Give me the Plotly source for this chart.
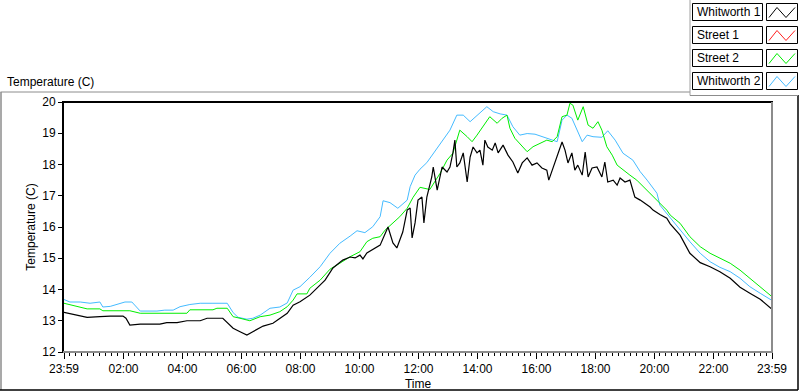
import pandas as pd
import plotly.graph_objects as go

# ---------------- data (minutes after 23:59 start, temperature in C) ----------------
start_time = "2020-01-01 23:59"

whitworth1_min = [0, 18, 47, 73, 94, 120, 126, 134, 155, 195, 209, 230, 250, 277, 291, 323,
                  332, 344, 358, 372, 384, 405, 425, 439, 454, 466, 480, 500, 517,
                  531, 547, 567, 582, 592, 602, 608, 616, 626, 643, 659, 669, 677, 683, 689,
                  698, 704, 708, 714, 720, 728, 732, 738, 748, 751, 759, 769, 779, 785, 791,
                  795, 799, 805, 812, 820, 826, 832, 840, 846, 852, 856, 862, 871, 877, 883,
                  893, 903, 913, 923, 932, 942, 952, 962, 972, 982, 986, 995, 1005, 1013, 1019,
                  1025, 1033, 1039, 1045, 1054, 1060, 1066, 1074, 1084, 1094, 1100, 1106, 1117,
                  1125, 1131, 1141, 1151, 1161, 1172, 1192, 1198, 1212, 1226, 1233, 1253,
                  1273, 1294, 1314, 1334, 1355, 1375, 1395, 1416, 1440]
whitworth1_temp = [13.27, 13.21, 13.11, 13.13, 13.15, 13.15, 13.08, 12.86, 12.89, 12.89, 12.94,
                   12.94, 13.0, 13.0, 13.08, 13.08, 12.95, 12.76, 12.65, 12.54, 12.65, 12.83,
                   12.92, 13.08, 13.24, 13.5, 13.61, 13.82, 14.1,
                   14.30, 14.69, 14.94, 15.04, 15.01, 15.10, 14.98, 15.17, 15.26, 15.42, 16.0,
                   15.49, 15.33, 15.58, 15.84, 16.54, 16.61, 15.65, 16.13, 16.86, 16.96, 16.13,
                   16.96, 17.6, 17.92, 17.18, 17.92, 17.76, 17.92, 18.37, 18.78, 17.92, 18.05,
                   18.37, 17.44, 18.24, 18.56, 18.37, 18.46, 17.98, 18.78, 18.56, 18.46, 18.69,
                   18.37, 18.62, 18.30, 18.08, 17.73, 18.05, 18.21, 17.98, 18.05, 17.89, 17.82,
                   17.5, 17.92, 18.37, 18.72, 18.46, 18.05, 18.37, 17.82, 17.98, 17.66, 18.40,
                   17.6, 17.89, 17.92, 17.6, 18.08, 17.44, 17.5, 17.34, 17.57, 17.44, 17.5,
                   16.96, 16.86, 16.64, 16.54, 16.4, 16.28, 16.1, 15.74, 15.16, 14.86, 14.73,
                   14.57, 14.36, 14.07, 13.88, 13.69, 13.37]

street1_min = []
street1_temp = []

street2_min = [0, 33, 47, 73, 79, 134, 155, 250, 256, 303, 311, 332, 344, 358, 378, 399, 419,
               439, 454, 466, 474, 494, 500, 521, 541, 561, 582, 602, 616, 628, 643, 653, 669,
               683, 698, 710, 724, 738, 744, 765, 779, 791, 805, 820, 830, 840, 852, 866, 881,
               891, 901, 907, 917, 932, 942, 954, 968, 982, 993, 1003, 1013, 1023, 1029, 1035,
               1045, 1056, 1066, 1076, 1086, 1094, 1104, 1115, 1125, 1137, 1151, 1165, 1186,
               1206, 1226, 1233, 1253, 1273, 1294, 1314, 1334, 1355, 1375, 1395, 1416, 1440]
street2_temp = [13.56, 13.43, 13.38, 13.38, 13.32, 13.32, 13.24, 13.24, 13.35, 13.35, 13.4,
                13.4, 13.13, 13.08, 13.0, 13.13, 13.18, 13.29, 13.45, 13.66, 13.86, 13.86,
                14.04, 14.3, 14.65, 14.84, 15.05, 15.21, 15.53, 15.64, 15.69, 15.9, 16.12,
                16.33, 16.6, 16.95, 17.27, 17.22, 17.2, 17.72, 18.14, 18.36, 19.1, 18.89,
                18.73, 18.94, 19.21, 19.53, 19.32, 19.48, 19.58, 19.16, 18.84, 18.57, 18.41,
                18.57, 18.68, 18.78, 18.73, 18.89, 19.53, 19.58, 19.96, 19.9, 19.42, 19.85,
                19.26, 19.16, 19.37, 19.1, 18.57, 18.3, 17.98, 17.82, 17.66, 17.5, 17.18,
                16.86, 16.54, 16.38, 16.12, 15.69, 15.37, 15.16, 15.0, 14.84, 14.62, 14.36,
                14.09, 13.77]

whitworth2_min = [0, 12, 33, 53, 73, 79, 94, 114, 124, 138, 148, 155, 189, 205, 222, 236, 256,
                  277, 303, 332, 344, 354, 372, 384, 399, 419, 439, 454, 466, 480, 500, 521,
                  541, 561, 582, 596, 612, 628, 643, 649, 663, 679, 698, 704, 714, 724, 738,
                  765, 785, 799, 812, 826, 840, 860, 873, 887, 901, 913, 927, 942, 958, 974,
                  988, 1003, 1013, 1023, 1033, 1043, 1054, 1064, 1076, 1094, 1106, 1121, 1137,
                  1157, 1172, 1186, 1206, 1212, 1233, 1253, 1273, 1294, 1314, 1334, 1355, 1375,
                  1395, 1416, 1440]
whitworth2_temp = [13.68, 13.6, 13.6, 13.56, 13.6, 13.44, 13.46, 13.56, 13.6, 13.6, 13.42,
                   13.31, 13.31, 13.34, 13.34, 13.45, 13.52, 13.56, 13.56, 13.56, 13.26, 13.11,
                   13.05, 13.08, 13.18, 13.4, 13.44, 13.57, 13.98, 14.09, 14.39, 14.73, 15.16,
                   15.48, 15.71, 15.88, 15.82, 16.01, 16.33, 16.84, 16.78, 16.6, 16.86, 17.29,
                   17.66, 17.85, 18.06, 18.68, 19.1, 19.58, 19.58, 19.37, 19.58, 19.85, 19.69,
                   19.62, 19.58, 19.21, 18.94, 18.99, 18.97, 18.89, 18.8, 18.73, 19.42, 19.58,
                   19.48, 19.1, 18.73, 18.94, 18.89, 18.87, 19.08, 18.78, 18.36, 18.14, 17.77,
                   17.5, 17.08, 16.7, 16.3, 15.9, 15.53, 15.16, 14.89, 14.71, 14.57, 14.36,
                   14.09, 13.88, 13.65]

series_names = ["Whitworth 1", "Street 1", "Street 2", "Whitworth 2"]
series_colors = ["#000000", "#FF2020", "#00EE00", "#44BBFF"]

y_ticks = [12, 13, 14, 15, 16, 17, 18, 19, 20]
x_tick_labels = ["23:59", "02:00", "04:00", "06:00", "08:00", "10:00", "12:00",
                 "14:00", "16:00", "18:00", "20:00", "22:00", "23:59"]

# ---------------- build figure ----------------
t0 = pd.Timestamp(start_time)
def to_time(mins):
    return [t0 + pd.Timedelta(minutes=m) for m in mins]

data = [
    (whitworth1_min, whitworth1_temp),
    (street1_min, street1_temp),
    (street2_min, street2_temp),
    (whitworth2_min, whitworth2_temp),
]

W, H = 800, 392
L, R, T, B = 64, 28, 102, 40
plot_w = W - L - R
plot_h = H - T - B

def px(x):
    return (x - L) / plot_w

def py(y):
    return (H - B - y) / plot_h

fig = go.Figure()
for idx in [3, 2, 1, 0]:
    mins, temps = data[idx]
    fig.add_trace(go.Scatter(
        x=to_time(mins), y=temps, mode="lines", name=series_names[idx],
        line=dict(color=series_colors[idx], width=1.2 if idx == 0 else 1, shape="linear"),
        showlegend=False, hoverinfo="skip",
    ))

end_time = t0 + pd.Timedelta(minutes=1440)
tickvals = [t0] + [pd.Timestamp("2020-01-02") + pd.Timedelta(hours=h) for h in range(2, 24, 2)] + [end_time]

font = "Liberation Sans, Arial, sans-serif"

fig.update_layout(
    width=W, height=H,
    margin=dict(l=L, r=R, t=T, b=B, pad=0, autoexpand=False),
    paper_bgcolor="white", plot_bgcolor="white",
    font=dict(family=font, size=12, color="black"),
    showlegend=False,
    xaxis=dict(
        range=[t0, end_time], tickmode="array", tickvals=tickvals, ticktext=x_tick_labels,
        ticks="outside", ticklen=6, tickwidth=1, tickcolor="black",
        showgrid=False, zeroline=False, showline=False, automargin=False,
        minor=dict(dtick=12 * 60 * 1000, tick0=t0, ticks="outside", ticklen=3,
                   tickwidth=1, tickcolor="black", showgrid=False),
        title=dict(text="Time", standoff=4, font=dict(size=12)),
        tickfont=dict(size=12),
    ),
    yaxis=dict(
        range=[12, 20], tickmode="array", tickvals=y_ticks,
        ticks="outside", ticklen=5, tickwidth=1, tickcolor="black",
        showgrid=False, zeroline=False, showline=False, automargin=False,
        title=dict(text="Temperature (C)", standoff=4, font=dict(size=12)),
        tickfont=dict(size=12),
    ),
)

shapes = []
def line(x0, y0, x1, y1, color, width=1):
    shapes.append(dict(type="line", xref="paper", yref="paper",
                       x0=px(x0), y0=py(y0), x1=px(x1), y1=py(y1),
                       line=dict(color=color, width=width)))

# plot area frame (sunken)
line(63, 102, 773, 102, "black", 2)
line(63, 101, 63, 353, "black", 2)
line(772, 102, 772, 353, "#8C8C8C", 2)
line(63, 352, 773, 352, "#8C8C8C", 2)

# outer frame
line(0.5, 92, 690, 92, "#8C8C8C", 1)
line(1, 92, 1, 390, "#8C8C8C", 1.5)
line(0, 390, 798, 390, "black", 1.5)
line(798, 95, 798, 390, "black", 1.5)
line(690, 0, 690, 95.5, "#A0A0A0", 1)
line(690, 95.5, 798, 95.5, "#8C8C8C", 1)

# legend boxes
annotations = []
legend_tops = [3.5, 26.5, 49.5, 72.5]
for name, col, top in zip(series_names, series_colors, legend_tops):
    bot = top + 17
    shapes.append(dict(type="rect", xref="paper", yref="paper",
                       x0=px(692.5), x1=px(762.5), y0=py(top), y1=py(bot),
                       line=dict(color="black", width=1), fillcolor="white"))
    shapes.append(dict(type="rect", xref="paper", yref="paper",
                       x0=px(766.5), x1=px(797.5), y0=py(top), y1=py(bot),
                       line=dict(color="black", width=1), fillcolor="white"))
    path = "M {} {} L {} {} L {} {} L {} {}".format(
        px(769), py(bot - 3), px(777), py(top + 4), px(786), py(bot - 3), px(795), py(top + 4))
    shapes.append(dict(type="path", xref="paper", yref="paper", path=path,
                       line=dict(color=col, width=1)))
    annotations.append(dict(text=name, xref="paper", yref="paper",
                            x=px(695), y=py((top + bot) / 2), xanchor="left", yanchor="middle",
                            showarrow=False, font=dict(size=12, color="black")))

annotations.append(dict(text="Temperature (C)", xref="paper", yref="paper",
                        x=px(5), y=py(82), xanchor="left", yanchor="middle",
                        showarrow=False, font=dict(size=12, color="black")))

fig.update_layout(shapes=shapes, annotations=annotations)

fig.write_html(
    "out.html",
    config={"displayModeBar": False, "staticPlot": True},
    post_script="document.body.style.margin='0';document.body.style.overflow='hidden';"
                "document.documentElement.style.overflow='hidden';",
)
